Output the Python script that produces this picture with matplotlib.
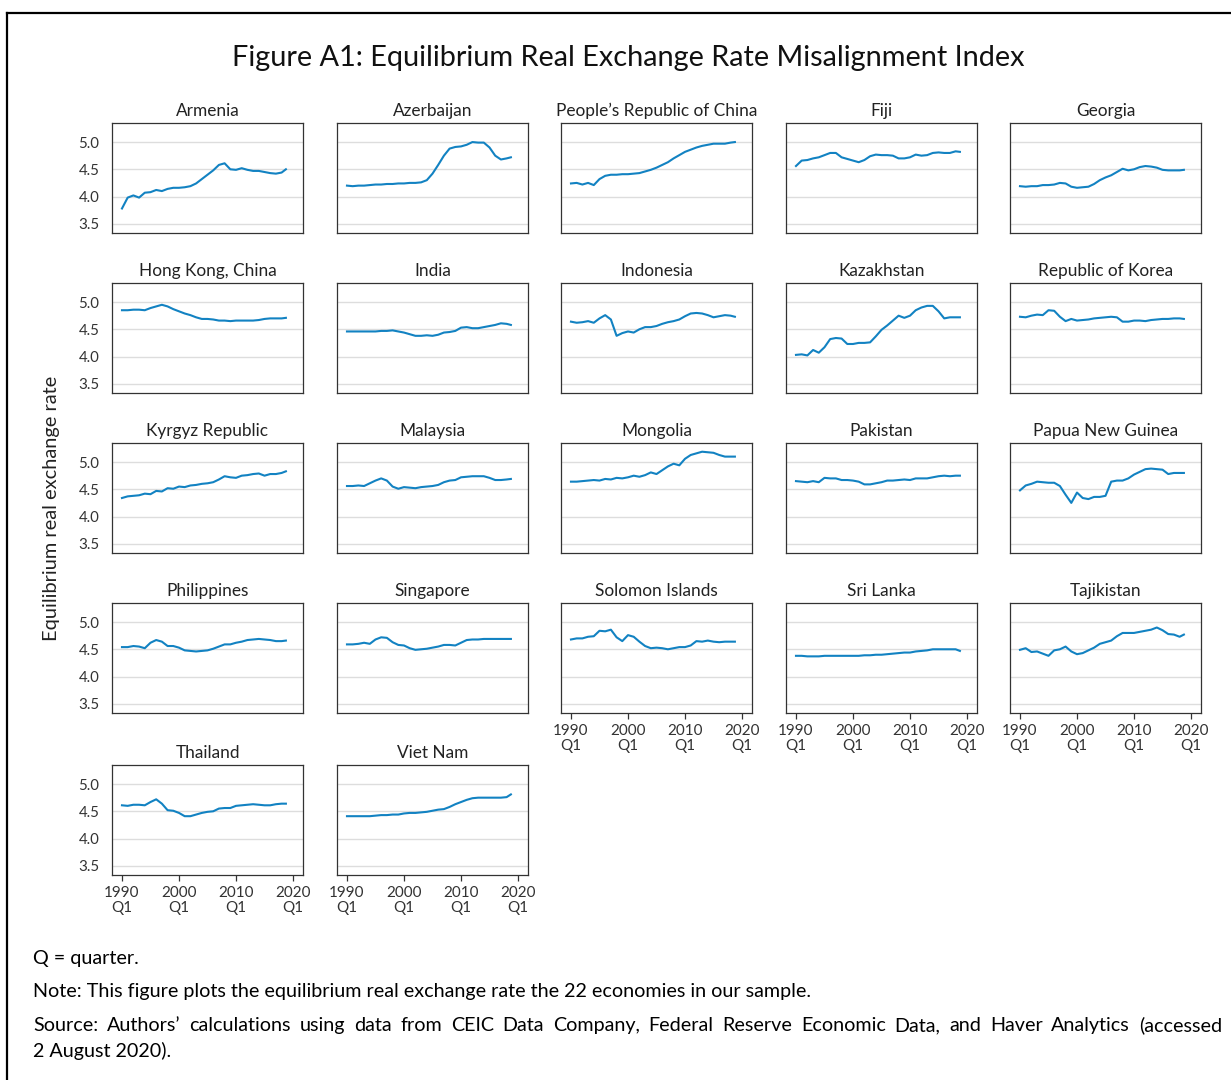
import matplotlib
matplotlib.use('Agg')
import matplotlib.pyplot as plt
from matplotlib.lines import Line2D

plt.rcParams['font.family'] = ['Lato', 'DejaVu Sans']

# annual readings, last point ~2018Q4
years = list(range(1990, 2019)) + [2018.75]

armenia = [3.78, 3.98, 4.02, 3.98, 4.07, 4.08, 4.12, 4.10, 4.14, 4.16, 4.16, 4.17, 4.19, 4.24, 4.32,
           4.40, 4.48, 4.58, 4.61, 4.50, 4.49, 4.52, 4.49, 4.47, 4.47, 4.45, 4.43, 4.42, 4.44, 4.50]
azerbaijan = [4.20, 4.19, 4.20, 4.20, 4.21, 4.22, 4.22, 4.23, 4.23, 4.24, 4.24, 4.25, 4.25, 4.26, 4.30,
              4.42, 4.58, 4.75, 4.88, 4.91, 4.92, 4.95, 5.00, 4.99, 4.99, 4.90, 4.75, 4.68, 4.70, 4.72]
china = [4.24, 4.25, 4.22, 4.25, 4.21, 4.32, 4.38, 4.40, 4.40, 4.41, 4.41, 4.42, 4.43, 4.46, 4.49,
         4.53, 4.58, 4.63, 4.70, 4.76, 4.82, 4.86, 4.90, 4.93, 4.95, 4.97, 4.97, 4.97, 4.99, 5.00]
fiji = [4.56, 4.66, 4.67, 4.70, 4.72, 4.76, 4.80, 4.80, 4.72, 4.69, 4.66, 4.63, 4.67, 4.74, 4.77,
        4.76, 4.76, 4.75, 4.70, 4.70, 4.72, 4.77, 4.75, 4.76, 4.80, 4.81, 4.80, 4.80, 4.83, 4.82]
georgia = [4.19, 4.18, 4.19, 4.19, 4.21, 4.21, 4.22, 4.25, 4.24, 4.18, 4.16, 4.17, 4.18, 4.23, 4.30,
           4.35, 4.39, 4.45, 4.51, 4.48, 4.50, 4.54, 4.56, 4.55, 4.53, 4.49, 4.48, 4.48, 4.48, 4.49]
hong_kong = [4.85, 4.85, 4.86, 4.86, 4.85, 4.89, 4.92, 4.95, 4.92, 4.87, 4.83, 4.79, 4.76, 4.72, 4.69,
             4.69, 4.68, 4.66, 4.66, 4.65, 4.66, 4.66, 4.66, 4.66, 4.67, 4.69, 4.70, 4.70, 4.70, 4.71]
india = [4.46, 4.46, 4.46, 4.46, 4.46, 4.46, 4.47, 4.47, 4.48, 4.46, 4.44, 4.41, 4.38, 4.38, 4.39,
         4.38, 4.40, 4.44, 4.45, 4.47, 4.53, 4.54, 4.52, 4.52, 4.54, 4.56, 4.58, 4.61, 4.60, 4.58]
indonesia = [4.64, 4.62, 4.63, 4.65, 4.62, 4.70, 4.76, 4.68, 4.38, 4.43, 4.46, 4.44, 4.50, 4.54, 4.54,
             4.56, 4.60, 4.63, 4.65, 4.68, 4.74, 4.79, 4.80, 4.79, 4.76, 4.72, 4.74, 4.76, 4.75, 4.73]
kazakhstan = [4.03, 4.04, 4.02, 4.12, 4.07, 4.17, 4.32, 4.34, 4.33, 4.23, 4.23, 4.25, 4.25, 4.26, 4.37,
              4.49, 4.57, 4.66, 4.75, 4.71, 4.75, 4.85, 4.90, 4.93, 4.93, 4.83, 4.70, 4.72, 4.72, 4.72]
korea = [4.73, 4.72, 4.75, 4.77, 4.76, 4.85, 4.84, 4.73, 4.65, 4.69, 4.66, 4.67, 4.68, 4.70, 4.71,
         4.72, 4.73, 4.72, 4.64, 4.64, 4.66, 4.66, 4.65, 4.67, 4.68, 4.69, 4.69, 4.70, 4.70, 4.69]
kyrgyz = [4.34, 4.37, 4.38, 4.39, 4.42, 4.41, 4.47, 4.46, 4.52, 4.51, 4.55, 4.54, 4.57, 4.58, 4.60,
          4.61, 4.63, 4.68, 4.74, 4.72, 4.71, 4.75, 4.76, 4.78, 4.79, 4.75, 4.78, 4.78, 4.80, 4.83]
malaysia = [4.56, 4.56, 4.57, 4.56, 4.61, 4.66, 4.70, 4.66, 4.55, 4.51, 4.54, 4.53, 4.52, 4.54, 4.55,
            4.56, 4.58, 4.63, 4.66, 4.67, 4.72, 4.73, 4.74, 4.74, 4.74, 4.71, 4.67, 4.67, 4.68, 4.69]
mongolia = [4.64, 4.64, 4.65, 4.66, 4.67, 4.66, 4.69, 4.68, 4.71, 4.70, 4.72, 4.75, 4.73, 4.76, 4.81,
            4.78, 4.85, 4.92, 4.97, 4.94, 5.06, 5.13, 5.16, 5.19, 5.18, 5.17, 5.13, 5.10, 5.10, 5.10]
pakistan = [4.65, 4.64, 4.63, 4.65, 4.63, 4.71, 4.70, 4.70, 4.67, 4.67, 4.66, 4.64, 4.59, 4.59, 4.61,
            4.63, 4.66, 4.66, 4.67, 4.68, 4.67, 4.70, 4.70, 4.70, 4.72, 4.74, 4.75, 4.74, 4.75, 4.75]
png = [4.48, 4.57, 4.60, 4.64, 4.63, 4.62, 4.62, 4.56, 4.40, 4.25, 4.44, 4.34, 4.32, 4.36, 4.36,
       4.38, 4.64, 4.66, 4.66, 4.70, 4.77, 4.82, 4.87, 4.88, 4.87, 4.86, 4.78, 4.80, 4.80, 4.80]
philippines = [4.54, 4.54, 4.56, 4.55, 4.52, 4.62, 4.67, 4.64, 4.56, 4.56, 4.53, 4.48, 4.47, 4.46, 4.47,
               4.48, 4.51, 4.55, 4.59, 4.59, 4.62, 4.64, 4.67, 4.68, 4.69, 4.68, 4.67, 4.65, 4.65, 4.66]
singapore = [4.59, 4.59, 4.60, 4.62, 4.60, 4.68, 4.72, 4.71, 4.63, 4.58, 4.57, 4.52, 4.49, 4.50, 4.51,
             4.53, 4.55, 4.58, 4.58, 4.57, 4.62, 4.67, 4.68, 4.68, 4.69, 4.69, 4.69, 4.69, 4.69, 4.69]
solomon = [4.68, 4.70, 4.70, 4.73, 4.74, 4.84, 4.83, 4.86, 4.72, 4.65, 4.76, 4.73, 4.64, 4.56, 4.52,
           4.53, 4.52, 4.50, 4.52, 4.54, 4.54, 4.57, 4.65, 4.64, 4.66, 4.64, 4.63, 4.64, 4.64, 4.64]
sri_lanka = [4.38, 4.38, 4.37, 4.37, 4.37, 4.38, 4.38, 4.38, 4.38, 4.38, 4.38, 4.38, 4.39, 4.39, 4.40,
             4.40, 4.41, 4.42, 4.43, 4.44, 4.44, 4.46, 4.47, 4.48, 4.50, 4.50, 4.50, 4.50, 4.50, 4.47]
tajikistan = [4.49, 4.52, 4.45, 4.46, 4.42, 4.38, 4.48, 4.50, 4.55, 4.46, 4.41, 4.43, 4.48, 4.53, 4.60,
              4.63, 4.66, 4.74, 4.80, 4.80, 4.80, 4.82, 4.84, 4.86, 4.90, 4.85, 4.78, 4.77, 4.73, 4.77]
thailand = [4.61, 4.60, 4.62, 4.62, 4.61, 4.67, 4.72, 4.64, 4.52, 4.51, 4.47, 4.41, 4.41, 4.44, 4.47,
            4.49, 4.50, 4.55, 4.56, 4.56, 4.60, 4.61, 4.62, 4.63, 4.62, 4.61, 4.61, 4.63, 4.64, 4.64]
viet_nam = [4.41, 4.41, 4.41, 4.41, 4.41, 4.42, 4.43, 4.43, 4.44, 4.44, 4.46, 4.47, 4.47, 4.48, 4.49,
            4.51, 4.53, 4.54, 4.58, 4.63, 4.67, 4.71, 4.74, 4.75, 4.75, 4.75, 4.75, 4.75, 4.76, 4.81]

names = ['Armenia', 'Azerbaijan', 'People\u2019s Republic of China', 'Fiji', 'Georgia',
         'Hong Kong, China', 'India', 'Indonesia', 'Kazakhstan', 'Republic of Korea',
         'Kyrgyz Republic', 'Malaysia', 'Mongolia', 'Pakistan', 'Papua New Guinea',
         'Philippines', 'Singapore', 'Solomon Islands', 'Sri Lanka', 'Tajikistan',
         'Thailand', 'Viet Nam']
series = [armenia, azerbaijan, china, fiji, georgia, hong_kong, india, indonesia, kazakhstan, korea,
          kyrgyz, malaysia, mongolia, pakistan, png, philippines, singapore, solomon, sri_lanka,
          tajikistan, thailand, viet_nam]

y_ticks = [3.5, 4.0, 4.5, 5.0]
y_labels = ['3.5', '4.0', '4.5', '5.0']
x_ticks = [1990, 2000, 2010, 2020]
x_labels = ['1990\nQ1', '2000\nQ1', '2010\nQ1', '2020\nQ1']

W, H = 1231, 1080
fig = plt.figure(figsize=(W / 100, H / 100), dpi=100)

col_left = [112, 337, 561, 786, 1010]
row_top = [123, 283, 443, 603, 765]
aw, ah = 191, 110
line_color = '#1282c2'
dark = '#333333'

for i, (name, vals) in enumerate(zip(names, series)):
    r, c = divmod(i, 5)
    ax = fig.add_axes([col_left[c] / W, 1 - (row_top[r] + ah) / H, aw / W, ah / H])
    ax.plot(years, vals, color=line_color, lw=1.5)
    ax.set_xlim(1988.25, 2021.75)
    ax.set_ylim(3.33, 5.35)
    ax.set_yticks(y_ticks)
    ax.set_xticks(x_ticks)
    ax.grid(axis='y', color='#dddddd', lw=1)
    ax.set_axisbelow(True)
    for s in ax.spines.values():
        s.set_color(dark)
        s.set_linewidth(0.9)
    ax.set_title(name, fontsize=12.4, color='#222222', pad=5)
    ax.tick_params(axis='y', length=0, labelsize=10.8, labelcolor=dark, pad=9)
    if c != 0:
        ax.tick_params(axis='y', labelleft=False)
    else:
        ax.set_yticklabels(y_labels)
    if i >= 17:
        ax.set_xticklabels(x_labels, linespacing=1.1)
        ax.tick_params(axis='x', length=4, width=0.9, color=dark, labelsize=11,
                       labelcolor=dark, pad=4)
    else:
        ax.tick_params(axis='x', length=0, labelbottom=False)

fig.text(628 / W, 1 - 58 / H, 'Figure A1: Equilibrium Real Exchange Rate Misalignment Index',
         ha='center', va='center', fontsize=20.8, color='#111111')
fig.text(52 / W, 1 - 508 / H, 'Equilibrium real exchange rate', rotation=90,
         ha='center', va='center', fontsize=14.4, color='#222222')

note_size = 14.2
fig.text(33 / W, 1 - 964 / H, 'Q = quarter.', ha='left', va='baseline', fontsize=note_size)
fig.text(33 / W, 1 - 997 / H,
         'Note: This figure plots the equilibrium real exchange rate the 22 economies in our sample.',
         ha='left', va='baseline', fontsize=note_size)

# justified source line, first line spans x = 33 .. 1222 px
source_line = ('Source: Authors\u2019 calculations using data from CEIC Data Company, Federal Reserve '
               'Economic Data, and Haver Analytics (accessed')
words = source_line.split(' ')
renderer = fig.canvas.get_renderer()
word_texts = [fig.text(0, 1 - 1031 / H, w, ha='left', va='baseline', fontsize=note_size)
              for w in words]
widths = [t.get_window_extent(renderer).width for t in word_texts]
gap = (1222 - 33 - sum(widths)) / (len(words) - 1)
x = 33.0
for t, w in zip(word_texts, widths):
    t.set_x(x / W)
    x += w + gap
fig.text(33 / W, 1 - 1057 / H, '2 August 2020).', ha='left', va='baseline', fontsize=note_size)

# frame around the figure (cut off at right and bottom)
bx, by = 7 / W, 1 - 13 / H
fig.add_artist(Line2D([bx, bx], [0, by], color='black', lw=1.6))
fig.add_artist(Line2D([bx, 1], [by, by], color='black', lw=1.6))

fig.savefig('out.png', dpi=100)
